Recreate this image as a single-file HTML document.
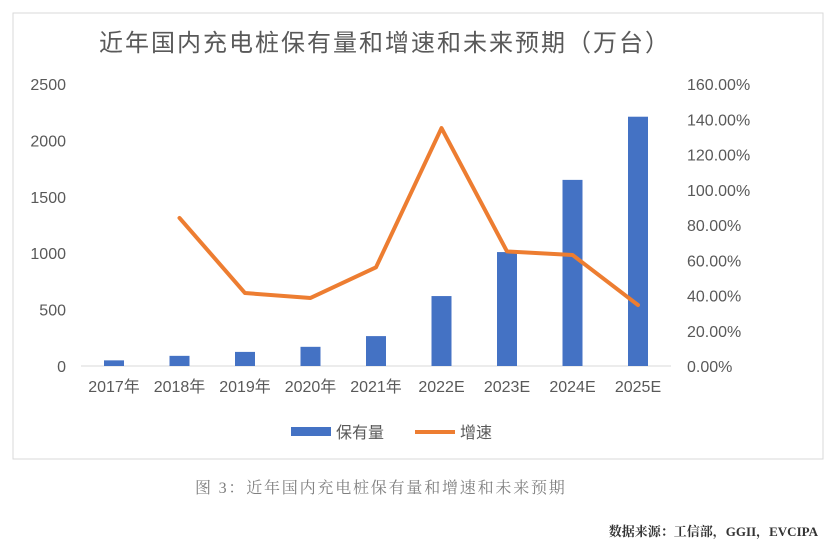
<!DOCTYPE html>
<html><head><meta charset="utf-8">
<style>
body{margin:0;background:#fff;width:837px;height:548px;overflow:hidden;font-family:"Liberation Sans","Noto Sans CJK SC",sans-serif;}
svg text{font-family:"Liberation Sans","Noto Sans CJK SC",sans-serif;}
</style></head>
<body>
<svg width="837" height="548" id="svg">
<rect x="13" y="13" width="810" height="446" fill="#fff" stroke="#d9d9d9"/>
<text x="385" y="51" text-anchor="middle" font-size="24" letter-spacing="2" fill="#595959">近年国内充电桩保有量和增速和未来预期（万台）</text>
<g id="axes"></g>
<g id="bars"></g>
<g id="line"></g>
<g>
<rect x="291" y="427" width="40" height="9" fill="#4472c4"/>
<text x="336" y="438" font-size="16" fill="#595959">保有量</text>
<line x1="415" y1="432" x2="455" y2="432" stroke="#ed7d31" stroke-width="4"/>
<text x="460" y="438" font-size="16" fill="#595959">增速</text>
</g>
<text x="195" y="493" font-size="16" letter-spacing="1.8" fill="#7f7f7f" style="font-family:'Liberation Serif','Noto Serif CJK SC',serif">图 3：近年国内充电桩保有量和增速和未来预期</text>
<text x="818" y="536" text-anchor="end" font-size="13" font-weight="bold" fill="#333" style="font-family:'Liberation Serif','Noto Serif CJK SC',serif">数据来源：工信部，GGII，EVCIPA</text>
</svg>
<script>
const categories=["2017年","2018年","2019年","2020年","2021年","2022E","2023E","2024E","2025E"];
const stockValues=[50,90,125,170,265,620,1010,1650,2210];
const growthValues=[null,84,41.4,38.6,56,135,65,63,34.6];
const leftTicks=[0,500,1000,1500,2000,2500];
const rightTicks=[0,20,40,60,80,100,120,140,160];
const NS="http://www.w3.org/2000/svg";
const y0=366,yTop=84;
const yL=v=>y0-(v/2500)*(y0-yTop);
const yR=v=>y0-(v/160)*(y0-yTop);
const x=i=>114+i*65.5;
function mk(tag,attrs,parent,txt){const e=document.createElementNS(NS,tag);for(const k in attrs)e.setAttribute(k,attrs[k]);if(txt!==undefined)e.textContent=txt;parent.appendChild(e);return e;}
const axes=document.getElementById('axes'),bars=document.getElementById('bars'),line=document.getElementById('line');
leftTicks.forEach(t=>{const e=mk('text',{x:66,y:yL(t)+6,'text-anchor':'end','font-size':16,fill:'#595959'},axes,String(t));

});
rightTicks.forEach(t=>{const e=mk('text',{x:687,y:yR(t)+6,'font-size':16,fill:'#595959'},axes,t.toFixed(2)+'%');

});
const ax=mk('line',{x1:81,x2:671,y1:y0,y2:y0,stroke:'#d9d9d9','stroke-width':1},axes);


categories.forEach((c,i)=>{const e=mk('text',{x:x(i),y:392,'text-anchor':'middle','font-size':16,fill:'#595959'},axes,c);

});
stockValues.forEach((v,i)=>{const r=mk('rect',{x:x(i)-10,y:yL(v),width:20,height:y0-yL(v),fill:'#4472c4'},bars);

});
const pts=[];growthValues.forEach((v,i)=>{if(v!==null)pts.push(x(i)+','+yR(v));});
const pl=mk('polyline',{points:pts.join(' '),fill:'none',stroke:'#ed7d31','stroke-width':4,'stroke-linejoin':'round','stroke-linecap':'round'},line);


</script>
</body></html>
